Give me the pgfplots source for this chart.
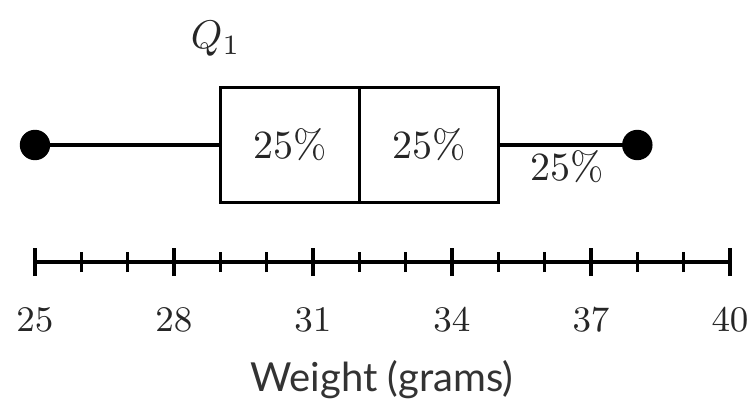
\documentclass[border=0pt]{standalone}
\usepackage{fontspec}
\usepackage{pgfplots}
\pgfplotsset{compat=1.18}
\usepgfplotslibrary{statistics}
\newfontfamily\lato{Lato}

\begin{document}
\begin{tikzpicture}
\begin{axis}[
  width=188.75pt, height=101.75pt, scale only axis,
  xmin=24.245, xmax=40.54, ymin=-145, ymax=262,
  axis x line=middle, axis y line=none,
  x axis line style={draw=none, -},
  ytick=\empty,
  xtick={25,28,...,40},
  minor xtick={26,27,29,30,32,33,35,36,38,39},
  tick align=center,
  major tick length=7pt, minor tick length=5pt,
  every tick/.style={black, line width=0.85pt},
  every minor tick/.style={black, line width=0.85pt},
  xticklabel style={font=\fontsize{9.5}{11}\selectfont, anchor=center, yshift=-11pt, text=black!85},
  xlabel={\lato Weight (grams)},
  xlabel style={at={(axis description cs:0.506,0.0663)}, anchor=center, font=\fontsize{10}{12}\selectfont, text=black!80},
  clip=false,
]
% corners of the whole picture
\coordinate (bl) at (rel axis cs:0,0);
\coordinate (tr) at (rel axis cs:1,1);
% number line
\addplot[black, line width=0.85pt, mark=none] coordinates {(25,0) (40,0)};
% box and whiskers
\addplot[black, line width=0.9pt, fill=white,
  boxplot prepared={lower whisker=25, lower quartile=29, median=32,
    upper quartile=35, upper whisker=38,
    draw position=117, box extend=115, whisker extend=0,
    draw direction=x}] coordinates {};
% end points
\addplot[only marks, mark=*, mark size=3.6pt, black] coordinates {(25,117) (38,117)};

\node[font=\fontsize{10}{12}\selectfont, text=black!85] at (axis cs:30.5,117) {25\%};
\node[font=\fontsize{10}{12}\selectfont, text=black!85] at (axis cs:33.5,117) {25\%};
\node[font=\fontsize{10}{12}\selectfont, text=black!85] at (axis cs:36.48,95) {25\%};
\node[font=\fontsize{10}{12}\selectfont, text=black!85] at (axis cs:28.9,223) {$Q_1$};
\end{axis}
\pgfresetboundingbox
\path (bl) rectangle (tr);
\end{tikzpicture}
\end{document}
